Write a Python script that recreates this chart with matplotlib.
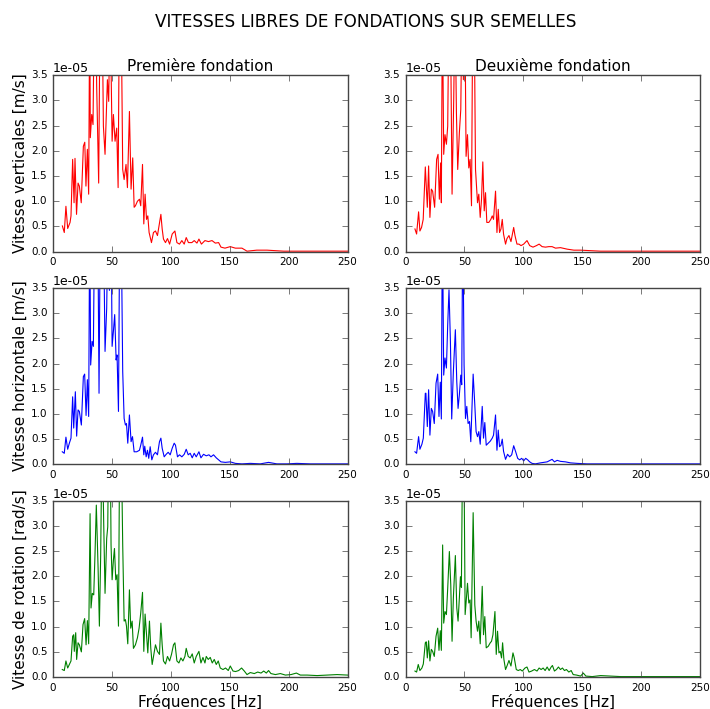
import numpy as np
import matplotlib
matplotlib.use('Agg')
import matplotlib.pyplot as plt

plt.style.use('classic')

# valeurs, en 1e-5 (>3.5 = pic coupé)
f_v1 = [8, 9.6, 11, 12.5, 14.5, 15.3, 16.7, 17.9, 18.7, 20, 21.3, 22.4, 24, 25.8, 27, 28, 29.2, 30.3, 31.2, 31.7,
        32.9, 34, 35.1, 36.3, 37.1, 38.8, 40, 41.7, 42.8, 44.2, 46.2, 47.3, 48.5, 50.2, 51.3, 52.7, 54.1, 55.3,
        56.4, 57.8, 59.2, 60.4, 62, 63.2, 64.9, 66.3, 67.7, 68.9, 70, 71.7, 73.4, 74.5, 76, 77.1, 78.2, 79.4,
        80.5, 81.6, 83.6, 85.3, 87, 88.7, 91.6, 92.7, 93.8, 95.5, 97.2, 99, 101.2, 103.5, 105.2, 107.4, 109.4,
        111.4, 113.1, 115, 117.9, 119.9, 122.2, 123.9, 126, 129, 132, 135, 137.8, 140.6, 142.6, 146, 150.5,
        154.8, 160.4, 164.7, 173, 181.7, 195.9, 224, 250]
v1 = [0.51, 0.38, 0.9, 0.46, 0.58, 0.71, 1.83, 0.97, 1.85, 0.74, 1.36, 1.3, 0.97, 2.09, 2.17, 1.3, 2.03, 1.14, 5, 2.26,
      2.72, 2.52, 5, 5, 3.28, 1.36, 5, 5, 2.49, 1.93, 3.41, 2.98, 5, 2.19, 2.72, 2.19, 2.45, 1.27,
      5, 5, 1.63, 1.43, 1.73, 1.27, 2.78, 1.24, 1.86, 0.88, 0.91, 1.0, 1.04, 0.91, 1.73, 0.55, 1.14, 0.64,
      0.71, 0.38, 0.18, 0.38, 0.41, 0.32, 0.74, 0.45, 0.25, 0.18, 0.26, 0.15, 0.35, 0.41, 0.18, 0.15, 0.22,
      0.15, 0.28, 0.18, 0.18, 0.22, 0.17, 0.25, 0.15, 0.22, 0.20, 0.22, 0.17, 0.18, 0.09, 0.07, 0.1,
      0.07, 0.07, 0.01, 0.03, 0.03, 0.01, 0.01, 0.01]

f_v2 = [8, 9.4, 11.1, 12.2, 13.6, 15, 16.8, 18.5, 19.6, 20.7, 21.9, 23, 24.7, 26.4, 27.6, 28.7, 29.8, 30.4, 31.3,
        32.4, 33.5, 34.7, 35.8, 36.9, 38, 39.5, 40.9, 42, 43.2, 44.3, 45.7, 46.9, 48, 49.1, 50.3, 51.4, 52.6,
        53.7, 54.8, 56, 57.1, 58.2, 59.4, 61.1, 62.2, 63.4, 64.5, 65.6, 66.8, 67.9, 69, 70.7, 72.4, 73.6, 74.7,
        76.4, 77.6, 78.7, 79.8, 81, 82.1, 83.2, 84.9, 86.1, 87.8, 89.5, 91.8, 92.9, 94.6, 96.3, 98, 100.3,
        103.1, 105.4, 108.2, 111.1, 113.4, 115.9, 118.8, 121.6, 124.4, 127.3, 131.5, 137.2, 142.9, 148.6,
        157, 165.6, 194, 250]
v2 = [0.45, 0.35, 0.79, 0.41, 0.48, 0.64, 1.68, 0.88, 1.7, 0.68, 1.24, 1.2, 0.88, 1.83, 1.93, 1.04, 1.76, 0.97, 5,
      1.93, 2.32, 2.13, 2.49, 5, 5, 1.14, 3.01, 5, 2.75, 1.63, 2.36, 2.82, 5, 3.41, 5, 1.89, 2.32,
      1.66, 1.83, 0.91, 5, 5, 1.63, 0.97, 1.14, 0.68, 1.04, 1.78, 0.81, 1.17, 0.58, 0.58, 0.64, 0.71, 0.64,
      1.2, 0.38, 0.84, 0.38, 0.45, 0.64, 0.35, 0.15, 0.26, 0.32, 0.2, 0.48, 0.32, 0.15, 0.15, 0.12, 0.15,
      0.22, 0.12, 0.09, 0.12, 0.15, 0.1, 0.09, 0.1, 0.1, 0.07, 0.08, 0.05, 0.03, 0.03,
      0.02, 0.01, 0.01, 0.01]

f_h1 = [7.9, 9.6, 11, 12.5, 13.9, 15.3, 16.7, 17.6, 19, 20.1, 21.3, 22.4, 24.1, 25.8, 26.9, 28.1, 29.2, 30.3, 31.2,
        32, 33.2, 34.3, 35.4, 36.6, 38, 39.1, 40.2, 41.7, 42.8, 44.2, 45.6, 46.8, 47.9, 49.3, 50.2, 51.3, 52.4,
        53.6, 54.4, 55.6, 56.7, 57.8, 59.2, 60.4, 61.5, 62.4, 63.5, 64.9, 66.3, 67.5, 68.9, 71.1, 73.4, 74.5,
        76, 77.1, 77.9, 79.1, 80.2, 81.3, 82.5, 83.9, 85.3, 87, 88.7, 90.4, 91.6, 92.7, 94.4, 96.1, 97.8, 99.5,
        101.2, 102.9, 104, 105.7, 107.4, 109.4, 111.4, 113.1, 114.8, 116.5, 118.2, 119.9, 121.6, 123.9, 125.6,
        127.8, 130.1, 132.4, 134.1, 136.3, 138.6, 140.6, 142.6, 146.3, 150.5, 154.8, 160.4, 167.5, 176, 183,
        190, 198.7, 207, 218.5, 250]
h1 = [0.25, 0.22, 0.54, 0.3, 0.42, 0.52, 1.34, 0.72, 1.44, 0.56, 1.08, 1.05, 0.78, 1.74, 1.79, 0.97, 1.68, 0.95, 5,
      1.97, 2.44, 2.34, 5, 5, 5, 1.41, 5, 5, 5, 2.24, 3.1, 5, 3.45, 5, 2.34, 2.64, 2.97,
      2.07, 2.17, 1.05, 5, 5, 1.84, 0.91, 0.78, 0.81, 0.42, 0.98, 0.45, 0.55, 0.25, 0.25, 0.28, 0.38,
      0.54, 0.19, 0.36, 0.15, 0.28, 0.12, 0.35, 0.09, 0.19, 0.24, 0.19, 0.45, 0.52, 0.32, 0.15, 0.2, 0.24, 0.19,
      0.32, 0.42, 0.38, 0.15, 0.19, 0.15, 0.2, 0.3, 0.19, 0.22, 0.13, 0.22, 0.15, 0.25, 0.13,
      0.2, 0.17, 0.19, 0.15, 0.19, 0.13, 0.09, 0.05, 0.04, 0.05, 0.02, 0.01, 0.02, 0.01, 0.04,
      0.01, 0.01, 0.02, 0.01, 0.01]

f_h2 = [8, 9.4, 11.1, 12.2, 13.9, 15.1, 16.8, 17.3, 18.5, 19.6, 20.7, 21.9, 23, 24.4, 25.9, 27.3, 28.4, 29.5, 30.4,
        31.3, 32.4, 33.5, 34.7, 35.8, 36.9, 38.1, 39.2, 40.6, 42.3, 43.5, 44.6, 45.7, 46.9, 47.7, 48.6, 49.7,
        50.9, 52, 53.1, 54.3, 55.4, 57.4, 58.8, 59.9, 61.1, 62.2, 63.4, 65.1, 66.2, 67.3, 68.5, 70.2, 71.9,
        73.6, 74.7, 76.4, 77.6, 78.7, 79.8, 81, 82.1, 83.2, 84.9, 86.6, 88.4, 90.1, 91.8, 93.5, 95.2, 96.9,
        98.6, 100.3, 102, 103.7, 105.4, 107.4, 110.2, 114.5, 120.2, 124.4, 126.4, 128.7, 131.5, 135.8, 140,
        145.7, 154, 171, 188, 250]
h2 = [0.25, 0.22, 0.55, 0.3, 0.4, 0.52, 1.41, 1.41, 0.75, 1.48, 0.58, 1.11, 1.05, 0.81, 1.61, 1.79, 0.95, 1.63, 0.9,
      5, 1.77, 2.11, 1.91, 2.77, 3.46, 2.44, 0.9, 1.84, 2.67, 1.64, 1.11, 1.38, 1.77, 1.58, 5, 1.97,
      0.91, 1.15, 0.81, 0.85, 0.45, 1.79, 1.18, 0.65, 0.55, 0.65, 0.4, 1.15, 0.52, 0.83, 0.38, 0.42, 0.46,
      0.52, 0.58, 0.98, 0.28, 0.68, 0.35, 0.38, 0.5, 0.26, 0.1, 0.2, 0.15, 0.19, 0.37, 0.25, 0.12, 0.09,
      0.12, 0.07, 0.12, 0.09, 0.05, 0.02, 0.01, 0.03, 0.05, 0.1, 0.05, 0.08, 0.06, 0.05, 0.03,
      0.02, 0.01, 0.01, 0.01, 0.01]

f_r1 = [7.9, 9.6, 11, 12.5, 13.9, 15.3, 16.7, 17.6, 18.1, 19.3, 20.1, 21.3, 22.4, 24.1, 25.5, 26.9, 28.1, 29.2,
        30.3, 31.5, 32.3, 33.4, 34.6, 35.7, 36.8, 38.3, 39.4, 40.5, 41.7, 43.1, 44.2, 45.6, 46.5, 47.3, 48.5,
        49.3, 50.2, 51.3, 52.2, 53.3, 54.4, 55.6, 56.7, 57.8, 59.2, 60.4, 61.5, 62.4, 63.5, 64.9, 66, 67.2,
        68.3, 70, 71.7, 73.1, 74.5, 76, 77.1, 78.2, 79.4, 80.5, 81.9, 83, 84.2, 85.6, 87, 88.7, 90.4, 91.6,
        92.7, 93.8, 95.5, 97.2, 99, 100.6, 102.3, 103.5, 105.2, 106.9, 108.6, 110.3, 112, 113.1, 114.8, 116.5,
        118.2, 119.9, 121.6, 123.9, 125.6, 127.3, 129, 130.1, 131.8, 133.5, 135.2, 136.9, 138.6, 140.3, 142,
        144.3, 146.5, 148.8, 150.5, 152.8, 155, 157.6, 160.1, 162.4, 164.7, 167.5, 170.9, 173.8, 176.6, 178.9,
        181.1, 183, 185, 188.8, 193, 197.3, 202.1, 206.6, 210, 215.7, 224.2, 232.7, 241.2, 250]
r1 = [0.15, 0.13, 0.32, 0.18, 0.25, 0.32, 0.81, 0.84, 0.51, 0.88, 0.35, 0.68, 0.64, 0.5, 1.04, 1.16, 0.64, 1.12,
      0.66, 3.24, 1.37, 1.66, 1.63, 2.45, 3.41, 2.16, 1.01, 2.42, 5, 3.01, 1.66, 2.75, 2.98, 5, 5,
      2.62, 1.93, 2.32, 2.55, 1.93, 2.03, 1.01, 5, 5, 2.62, 1.11, 1.14, 1.01, 0.66, 1.73, 0.97, 1.11,
      0.57, 0.64, 0.78, 0.97, 1.27, 1.68, 0.51, 1.25, 0.84, 0.48, 1.11, 0.58, 0.25, 0.45, 0.64, 0.51, 0.45, 1.07,
      0.64, 0.32, 0.26, 0.41, 0.32, 0.45, 0.64, 0.68, 0.32, 0.28, 0.38, 0.32, 0.41, 0.57, 0.41, 0.38,
      0.46, 0.28, 0.41, 0.51, 0.28, 0.39, 0.28, 0.41, 0.35, 0.39, 0.28, 0.35, 0.25, 0.32, 0.18,
      0.15, 0.18, 0.13, 0.22, 0.12, 0.11, 0.13, 0.18, 0.12, 0.05, 0.09, 0.07, 0.1, 0.08, 0.12,
      0.08, 0.13, 0.07, 0.05, 0.07, 0.04, 0.05, 0.08, 0.04, 0.04, 0.03, 0.04, 0.05, 0.04]

f_r2 = [8, 9.4, 10.8, 12.2, 13.9, 15.1, 16.8, 17.6, 18.5, 19.6, 20.7, 21.9, 23, 24.4, 25.9, 27.3, 28.4, 29.5, 30.4,
        31.5, 32.4, 33.5, 34.7, 35.8, 37.2, 38.4, 39.5, 40.6, 42.3, 43.5, 44.6, 45.7, 46.6, 47.4, 48.6, 49.4,
        50.6, 51.7, 52.6, 53.7, 54.8, 55.7, 57.4, 58.8, 59.9, 61.1, 62.2, 63.4, 65.1, 66.2, 67.3, 68.5, 70.2,
        71.9, 73, 74.2, 75.9, 77, 78.1, 79.3, 80.4, 81.5, 82.4, 83.5, 84.9, 86.1, 87.8, 89.5, 91.2, 92.3, 94,
        95.7, 97.4, 99.1, 101.4, 103.1, 104.8, 107.1, 109.4, 111.6, 113.4, 115.1, 116.8, 118.5, 120.2, 121.9,
        123.6, 124.7, 126.4, 128.1, 129.8, 131.5, 133.2, 134.9, 136.6, 138.6, 140.6, 142.3, 145.2, 148.6,
        150.9, 153.1, 158.5, 165.6, 174.1, 182.7, 194, 250]
r2 = [0.12, 0.1, 0.25, 0.13, 0.18, 0.26, 0.68, 0.7, 0.38, 0.72, 0.32, 0.55, 0.51, 0.41, 0.81, 0.97, 0.53, 0.92, 0.53,
      2.62, 1.07, 1.3, 1.24, 1.76, 2.49, 1.83, 0.71, 1.57, 2.41, 1.37, 1.11, 1.57, 1.99, 1.78, 5, 5,
      1.24, 1.57, 1.86, 1.47, 1.53, 0.78, 3.26, 1.43, 1.11, 0.91, 1.11, 0.66, 1.8, 0.84, 1.2, 0.58, 0.61,
      0.68, 0.71, 0.84, 1.3, 0.45, 0.91, 0.48, 0.51, 0.38, 0.68, 0.35, 0.15, 0.22, 0.33, 0.22, 0.48, 0.38, 0.15,
      0.13, 0.15, 0.12, 0.18, 0.2, 0.1, 0.12, 0.15, 0.12, 0.18, 0.15, 0.18, 0.13, 0.2, 0.13,
      0.2, 0.23, 0.12, 0.15, 0.2, 0.15, 0.18, 0.13, 0.15, 0.1, 0.13, 0.05, 0.04, 0.02,
      0.08, 0.02, 0.01, 0.03, 0.02, 0.01, 0.01, 0.01]

ylabels = ['Vitesse verticales [m/s]', 'Vitesse horizontale [m/s]', 'Vitesse de rotation [rad/s]']
titles = ['Première fondation', 'Deuxième fondation']
series = [[(f_v1, v1), (f_v2, v2)],
          [(f_h1, h1), (f_h2, h2)],
          [(f_r1, r1), (f_r2, r2)]]
colors = ['r', 'b', 'g']
yticks = [0.0, 0.5, 1.0, 1.5, 2.0, 2.5, 3.0, 3.5]

fig, axes = plt.subplots(3, 2, figsize=(7.1, 7.09), dpi=100, facecolor='white')
fig.subplots_adjust(left=0.0746, right=0.986, bottom=0.045, top=0.894, wspace=0.197, hspace=0.205)
fig.suptitle('VITESSES LIBRES DE FONDATIONS SUR SEMELLES', fontsize=12.2, x=0.515, y=0.982)

for i in range(3):
    for j in range(2):
        ax = axes[i, j]
        f, v = series[i][j]
        ax.plot(f, np.array(v) * 1e-5, color=colors[i], lw=0.8)
        ax.set_xlim(0, 250)
        ax.set_ylim(0, 3.5e-5)
        ax.set_xticks([0, 50, 100, 150, 200, 250])
        ax.set_yticks(np.array(yticks) * 1e-5)
        ax.set_yticklabels(['%.1f' % t for t in yticks])
        # facteur d'échelle comme dans l'original
        ax.text(0, 1.0, '1e-05', transform=ax.transAxes, ha='left', va='bottom', fontsize=9)
        ax.tick_params(labelsize=7.5, length=4, color='#444444')
        for s in ax.spines.values():
            s.set_color('#444444')
        if i == 0:
            ax.set_title(titles[j], fontsize=11, y=1.0, pad=3)
        if i == 2:
            ax.set_xlabel('Fréquences [Hz]', fontsize=11, labelpad=1)
        if j == 0:
            ax.set_ylabel(ylabels[i], fontsize=11, labelpad=2)

plt.savefig('out.png', dpi=100, facecolor='white')
